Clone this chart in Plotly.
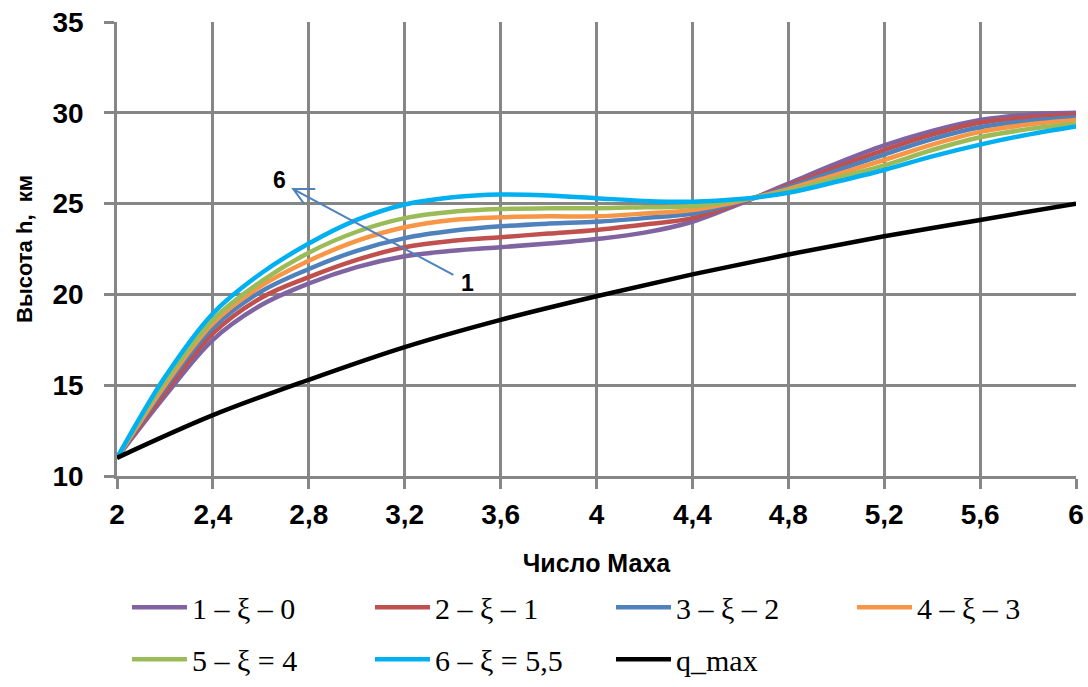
import plotly.graph_objects as go

# Mach number grid for the altitude curves
mach = [2.0, 2.2, 2.4, 2.6, 2.8, 3.0, 3.2, 3.4, 3.6, 3.8, 4.0,
        4.2, 4.4, 4.6, 4.8, 5.0, 5.2, 5.4, 5.6, 5.8, 6.0]

h1 = [11.0, 14.4, 17.5, 19.4, 20.6, 21.5, 22.1, 22.4, 22.6, 22.8, 23.05,
      23.4, 24.0, 25.0, 26.1, 27.2, 28.2, 29.0, 29.6, 29.9, 30.0]
h2 = [11.0, 14.6, 17.85, 19.8, 20.95, 21.9, 22.6, 22.95, 23.15, 23.35, 23.55,
      23.85, 24.2, 25.05, 26.0, 27.0, 27.95, 28.8, 29.45, 29.75, 29.9]
h3 = [11.0, 14.85, 18.15, 20.15, 21.4, 22.4, 23.1, 23.5, 23.75, 23.9, 24.0,
      24.2, 24.45, 25.1, 25.9, 26.8, 27.7, 28.55, 29.2, 29.55, 29.75]
h4 = [11.0, 15.0, 18.4, 20.45, 21.85, 22.95, 23.7, 24.1, 24.25, 24.3, 24.3,
      24.45, 24.65, 25.15, 25.8, 26.6, 27.4, 28.25, 28.95, 29.35, 29.6]
h5 = [11.0, 15.2, 18.6, 20.7, 22.3, 23.45, 24.2, 24.55, 24.7, 24.75, 24.75,
      24.8, 24.85, 25.2, 25.7, 26.4, 27.1, 27.95, 28.65, 29.1, 29.4]
h6 = [11.0, 15.45, 18.95, 21.15, 22.8, 24.1, 24.95, 25.35, 25.5, 25.45, 25.3,
      25.15, 25.1, 25.25, 25.6, 26.2, 26.85, 27.6, 28.25, 28.8, 29.25]

mach_q = [2.0, 2.4, 2.8, 3.2, 3.6, 4.0, 4.4, 4.8, 5.2, 5.6, 6.0]
h_q = [11.0, 13.35, 15.3, 17.1, 18.6, 19.9, 21.1, 22.2, 23.2, 24.1, 25.0]

names = ["1 – ξ – 0", "2 – ξ – 1", "3 – ξ – 2", "4 – ξ – 3", "5 – ξ = 4", "6 – ξ = 5,5", "q_max"]
colors = ["#8064A2", "#C0504D", "#4F81BD", "#F79646", "#9BBB59", "#00B0F0", "#000000"]
xs = [mach] * 6 + [mach_q]
series = [h1, h2, h3, h4, h5, h6, h_q]

# legend laid out as 4 columns x 2 rows
legend_ids = ["legend", "legend2", "legend3", "legend4", "legend", "legend2", "legend3"]

fig = go.Figure()
for i, (nm, col, xv, yv, lg) in enumerate(zip(names, colors, xs, series, legend_ids)):
    fig.add_trace(go.Scatter(
        x=xv, y=yv, name=nm, mode="lines",
        line=dict(color=col, width=4.5, shape="spline", smoothing=1.0),
        legend=lg, legendgroup=f"g{i}",
    ))

# Arrow from label "1" to label "6" with an open V head
tail = (3.403, 21.07)
head = (2.735, 25.8)
arm1 = (2.827, 25.8)
arm2 = (2.78, 25.0)
fig.add_shape(type="path", xref="x", yref="y",
              path=f"M{tail[0]},{tail[1]} L{head[0]},{head[1]} "
                   f"M{arm1[0]},{arm1[1]} L{head[0]},{head[1]} L{arm2[0]},{arm2[1]}",
              line=dict(color="#4F81BD", width=2))
fig.add_annotation(x=2.676, y=26.3, text="<b>6</b>", showarrow=False,
                   font=dict(family="Liberation Sans", size=23, color="black"))
fig.add_annotation(x=3.461, y=20.63, text="<b>1</b>", showarrow=False,
                   font=dict(family="Liberation Sans", size=23, color="black"))

tick_font = dict(family="Liberation Sans", size=28, color="black", weight="bold")
legend_font = dict(family="Liberation Serif", size=30, color="black")


def legend_box(xpos):
    return dict(orientation="v", x=xpos, xanchor="left", y=-0.232, yanchor="top",
                itemwidth=55, tracegroupgap=10, font=legend_font,
                bgcolor="rgba(0,0,0,0)")


fig.update_layout(
    width=1088, height=687,
    margin=dict(l=117, r=12, t=22, b=211, autoexpand=False),
    plot_bgcolor="white", paper_bgcolor="white",
    separators=", ",
    showlegend=True,
    xaxis=dict(
        range=[2, 6], tick0=2, dtick=0.4,
        showgrid=True, gridcolor="#868686", gridwidth=2.5,
        showline=True, linecolor="#868686", linewidth=2.5,
        ticks="outside", ticklen=10, tickcolor="#868686", tickwidth=2.5,
        tickfont=tick_font, ticklabelstandoff=2,
        title=dict(text="<b>Число Маха</b>", font=dict(family="Liberation Sans", size=25, color="black"),
                   standoff=26),
        zeroline=False, automargin=False,
    ),
    yaxis=dict(
        range=[10, 35], tick0=10, dtick=5,
        showgrid=True, gridcolor="#868686", gridwidth=2.5,
        showline=True, linecolor="#868686", linewidth=2.5,
        ticks="outside", ticklen=10, tickcolor="#868686", tickwidth=2.5,
        tickfont=tick_font, ticklabelstandoff=15,
        title=dict(text="<b>Высота h,  км</b>", font=dict(family="Liberation Sans", size=22, color="black"),
                   standoff=14),
        zeroline=False, automargin=False,
    ),
    legend=legend_box(0.0104),
    legend2=legend_box(0.2638),
    legend3=legend_box(0.5151),
    legend4=legend_box(0.7664),
)

fig.write_html("out.html")
